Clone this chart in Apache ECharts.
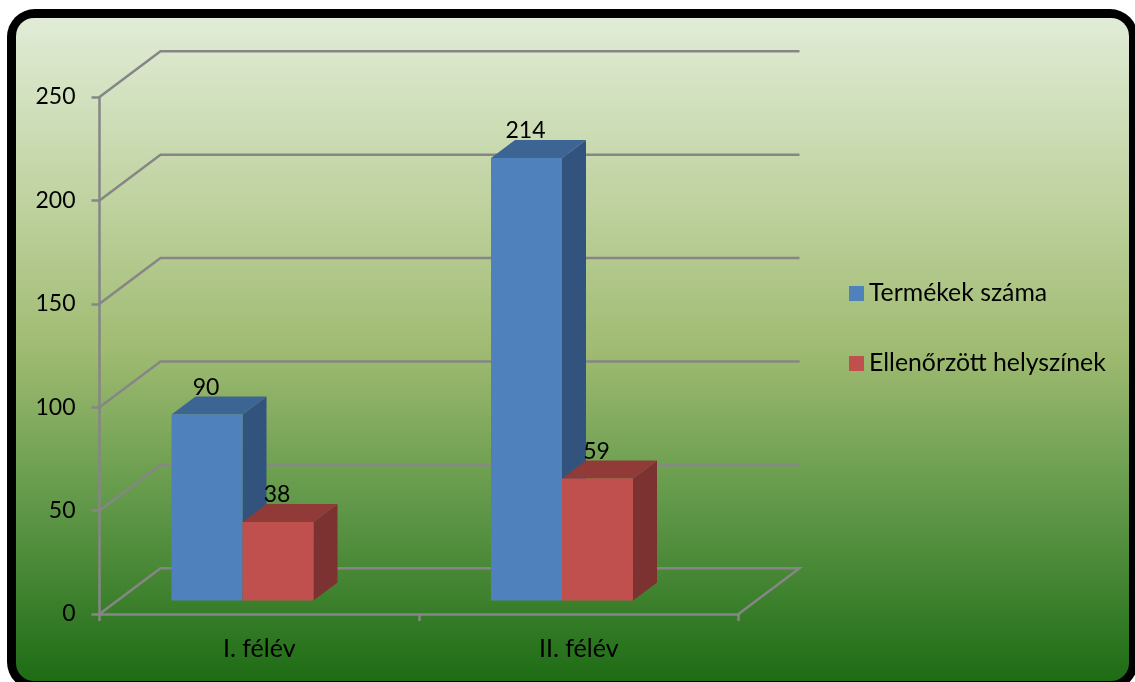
<!DOCTYPE html>
<html><head><meta charset="utf-8">
<style>html,body{margin:0;padding:0;background:#fff}#c{width:1135px;height:682px}</style>
<script src="https://cdn.jsdelivr.net/npm/echarts@6/dist/echarts.min.js"></script>
</head><body><div id="c"></div>
<script>
const categories = ['I. félév', 'II. félév'];
const valueTicks = [0, 50, 100, 150, 200, 250];
const seriesNames = ['Termékek száma', 'Ellenőrzött helyszínek'];
const termekek = [90, 214];
const ellenorzott = [38, 59];

const FONT = 'Lato';
const GRIDC = '#868686';
const WALL = {dx: 61, dy: -45.7};
const BAR = {dx: 24, dy: -18, floorUp: 13.5, shift: -16.75, ratio: 0.2222};
const palettes = [
  {front: '#4f81bd', top: '#3d6594', side: '#32537d'},
  {front: '#c0504d', top: '#913b39', side: '#7b3230'}
];

function frameItem(params, api) {
  const v = api.value(0);
  const cs = params.coordSys;
  const p = api.coord([0, v]);
  const x0 = cs.x, y = p[1];
  const pts = [[x0, y], [x0 + WALL.dx, y + WALL.dy], [x0 + cs.width + WALL.dx, y + WALL.dy]];
  if (v === 0) pts.push([x0 + cs.width, y]);
  return {type: 'polyline', shape: {points: pts},
    style: {stroke: GRIDC, lineWidth: 2.5, fill: null}, z2: 1};
}

function barItem(idx) {
  return function (params, api) {
    const cat = api.value(0), val = api.value(1);
    const w = api.size([1, 0])[0] * BAR.ratio;
    const c = api.coord([cat, val]);
    const b = api.coord([cat, 0]);
    const xl = c[0] + BAR.shift - w + idx * w, xr = xl + w;
    const yb = b[1] - BAR.floorUp, yt = c[1] - BAR.floorUp;
    const pal = palettes[idx];
    const zb = 10 + idx * 5;
    const dx = BAR.dx, dy = BAR.dy;
    return {type: 'group', children: [
      {type: 'polygon', z2: zb, shape: {points: [[xr, yb], [xr + dx, yb + dy], [xr + dx, yt + dy], [xr, yt]]}, style: {fill: pal.side}},
      {type: 'polygon', z2: zb, shape: {points: [[xl, yt], [xr, yt], [xr + dx, yt + dy], [xl + dx, yt + dy]]}, style: {fill: pal.top}},
      {type: 'rect', z2: zb + 1, shape: {x: xl, y: yt, width: w, height: yb - yt}, style: {fill: pal.front}},
      {type: 'text', z2: 100, style: {x: (xl + xr) / 2 - 1, y: yt - 27, text: String(val),
        fill: '#000', font: '23px ' + FONT, align: 'center', verticalAlign: 'middle'}}
    ]};
  };
}

const chart = echarts.init(document.getElementById('c'), null, {renderer: 'canvas'});
chart.setOption({
  animation: false,
  graphic: [
    {type: 'rect', z: -20, silent: true, shape: {x: 7, y: 9, width: 1131, height: 681, r: 28}, style: {fill: '#000'}},
    {type: 'rect', z: -19, silent: true, shape: {x: 16, y: 18, width: 1113, height: 663, r: 18},
      style: {fill: new echarts.graphic.LinearGradient(0, 0, 0, 1, [
        {offset: 0, color: '#e1ecd6'},
        {offset: 0.3, color: '#bcd09b'},
        {offset: 0.5, color: '#a0bb72'},
        {offset: 0.72, color: '#649a4b'},
        {offset: 1, color: '#1e6c15'}
      ])}}
  ],
  grid: {left: 99.5, top: 97, width: 639, height: 517, containLabel: false},
  legend: {
    orient: 'vertical', left: 849, top: 280, padding: 0, itemWidth: 15, itemHeight: 15, itemGap: 43,
    data: seriesNames.map(n => ({name: n, icon: 'rect'})),
    textStyle: {fontFamily: FONT, fontSize: 24.8, color: '#000', lineHeight: 27},
    selectedMode: false
  },
  xAxis: {
    type: 'category', data: categories,
    axisLine: {lineStyle: {color: GRIDC, width: 2.5}},
    axisTick: {show: true, alignWithLabel: false, length: 7, lineStyle: {color: GRIDC, width: 2.5}},
    axisLabel: {fontFamily: FONT, fontSize: 25, color: '#000', margin: 22},
    splitLine: {show: false}
  },
  yAxis: {
    type: 'value', min: 0, max: 250, interval: 50,
    axisLine: {show: true, lineStyle: {color: GRIDC, width: 2.5}},
    axisTick: {show: true, length: 8, lineStyle: {color: GRIDC, width: 2.5}},
    axisLabel: {fontFamily: FONT, fontSize: 23, color: '#000', margin: 24, padding: [3, 0, 0, 0]},
    splitLine: {show: false}
  },
  series: [
    {name: 'frame', type: 'custom', coordinateSystem: 'cartesian2d', clip: false, silent: true,
      data: valueTicks.map(v => [v]), encode: {y: 0}, renderItem: frameItem, legendHoverLink: false},
    {name: seriesNames[0], type: 'custom', coordinateSystem: 'cartesian2d', clip: false,
      itemStyle: {color: palettes[0].front}, encode: {x: 0, y: 1},
      data: termekek.map((v, i) => [i, v]), renderItem: barItem(0)},
    {name: seriesNames[1], type: 'custom', coordinateSystem: 'cartesian2d', clip: false,
      itemStyle: {color: palettes[1].front}, encode: {x: 0, y: 1},
      data: ellenorzott.map((v, i) => [i, v]), renderItem: barItem(1)}
  ]
});
</script></body></html>
